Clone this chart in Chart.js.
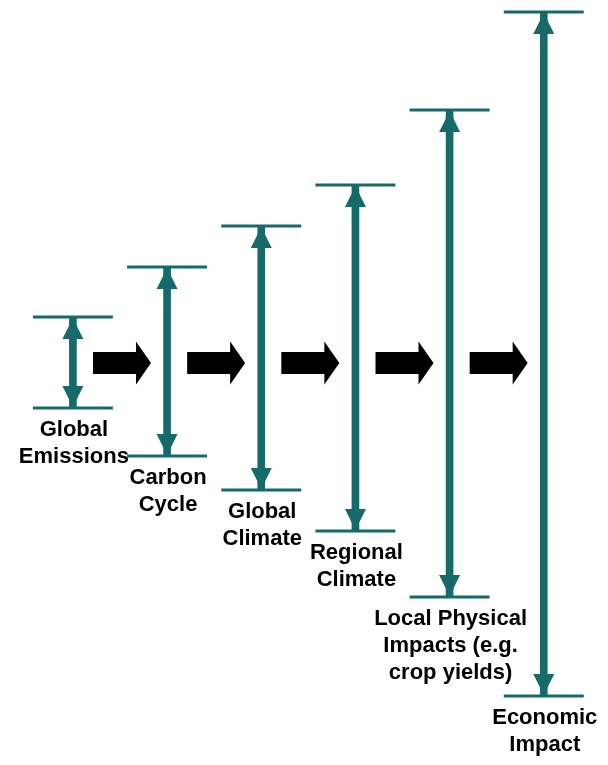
<!DOCTYPE html>
<html>
<head>
<meta charset="utf-8">
<script src="https://cdn.jsdelivr.net/npm/chart.js@4/dist/chart.umd.min.js"></script>
<style>
  html, body { margin: 0; padding: 0; background: #fff; }
  #wrap { width: 608px; height: 765px; position: relative; }
</style>
</head>
<body>
<div id="wrap"><canvas id="cascadeChart"></canvas></div>
<script>
// Stages of the uncertainty cascade (label lines)
const categories = [
  ["Global", "Emissions"],
  ["Carbon", "Cycle"],
  ["Global", "Climate"],
  ["Regional", "Climate"],
  ["Local Physical", "Impacts (e.g.", "crop yields)"],
  ["Economic", "Impact"],
];
// Upper and lower ends of each uncertainty range
const rangeHigh = [46, 96, 137, 178, 253, 351];
const rangeLow = [-45, -93, -127, -168, -234, -333];

const TEAL = "#166a6a";

const stageIdx = categories.map((c, i) => i);

// Arrowheads, flow arrows and stage labels
const cascadePlugin = {
  id: "cascade",
  afterDatasetsDraw(chart) {
    const { ctx } = chart;
    const x = chart.scales.x;
    const y = chart.scales.y;
    ctx.save();

    // ! Double-headed arrow tips
    ctx.fillStyle = TEAL;
    stageIdx.forEach((i) => {
      const px = x.getPixelForValue(i);
      const top = y.getPixelForValue(rangeHigh[i]) + 1;
      const bot = y.getPixelForValue(rangeLow[i]) - 1;
      ctx.beginPath();
      ctx.moveTo(px, top);
      ctx.lineTo(px - 10.5, top + 21);
      ctx.lineTo(px + 10.5, top + 21);
      ctx.closePath();
      ctx.fill();
      ctx.beginPath();
      ctx.moveTo(px, bot);
      ctx.lineTo(px - 10.5, bot - 21);
      ctx.lineTo(px + 10.5, bot - 21);
      ctx.closePath();
      ctx.fill();
    });

    // ! Black block arrows between stages
    ctx.fillStyle = "#000";
    const py = y.getPixelForValue(0);
    for (let i = 0; i < categories.length - 1; i++) {
      const xm = x.getPixelForValue(i + 0.5) + 2;
      const x0 = xm - 29, x1 = xm + 29, xh = x1 - 15;
      ctx.beginPath();
      ctx.moveTo(x0, py - 11);
      ctx.lineTo(xh, py - 11);
      ctx.lineTo(xh, py - 21.5);
      ctx.lineTo(x1, py);
      ctx.lineTo(xh, py + 21.5);
      ctx.lineTo(xh, py + 11);
      ctx.lineTo(x0, py + 11);
      ctx.closePath();
      ctx.fill();
    }

    // ! Labels under each range
    ctx.fillStyle = "#000";
    ctx.font = "bold 22px 'Liberation Sans', Arial, sans-serif";
    ctx.textAlign = "center";
    ctx.textBaseline = "middle";
    categories.forEach((lines, i) => {
      const px = x.getPixelForValue(i);
      const bot = y.getPixelForValue(rangeLow[i]);
      lines.forEach((line, k) => {
        ctx.fillText(line, px + 1, bot + 22 + k * 27);
      });
    });

    ctx.restore();
  },
};

const ctx = document.getElementById("cascadeChart").getContext("2d");

const cascadeChart = new Chart(ctx, {
  type: "bar",
  data: {
    datasets: [
      {
        // arrow shafts
        type: "bar",
        data: stageIdx.map((i) => ({ x: i, y: [rangeLow[i], rangeHigh[i]] })),
        backgroundColor: TEAL,
        borderWidth: 0,
        barThickness: 7,
      },
      {
        // range caps
        type: "scatter",
        data: stageIdx
          .map((i) => ({ x: i, y: rangeHigh[i] }))
          .concat(stageIdx.map((i) => ({ x: i, y: rangeLow[i] }))),
        pointStyle: "line",
        pointRadius: 40,
        pointHoverRadius: 40,
        borderColor: TEAL,
        borderWidth: 3,
        showLine: false,
      },
    ],
  },
  options: {
    responsive: true,
    maintainAspectRatio: false,
    animation: false,
    devicePixelRatio: 1,
    events: [],
    layout: { padding: 0, autoPadding: false },
    plugins: {
      legend: { display: false },
      tooltip: { enabled: false },
    },
    scales: {
      x: { type: "linear", min: -0.774, max: 5.682, offset: false, display: false },
      y: { type: "linear", min: -402, max: 363, display: false },
    },
  },
  plugins: [cascadePlugin],
});
</script>
</body>
</html>
